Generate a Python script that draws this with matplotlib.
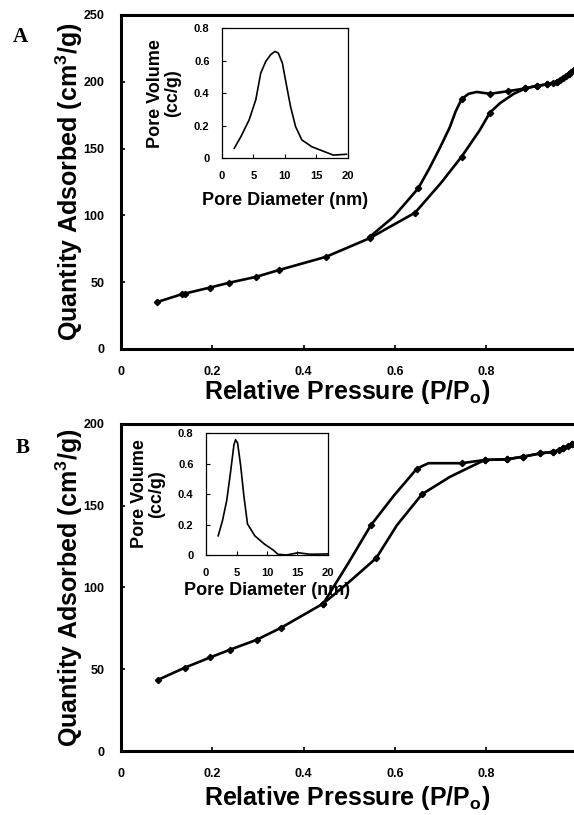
import matplotlib
matplotlib.use('Agg')
import matplotlib.pyplot as plt

plt.rcParams['font.family'] = ['Liberation Sans', 'DejaVu Sans']
plt.rcParams['font.weight'] = 'bold'
plt.rcParams['axes.labelweight'] = 'bold'
plt.rcParams['mathtext.fontset'] = 'custom'
plt.rcParams['mathtext.rm'] = 'Liberation Sans:bold'
plt.rcParams['mathtext.it'] = 'Liberation Sans:bold'
plt.rcParams['mathtext.default'] = 'rm'

# ---- panel A: isotherm ----
a_ads_p = [0.078, 0.133, 0.14, 0.195, 0.237, 0.296, 0.345, 0.449, 0.545, 0.589, 0.644, 0.70,
           0.746, 0.786, 0.808, 0.83, 0.86, 0.885, 0.91, 0.932, 0.945, 0.954, 0.962, 0.967,
           0.975, 0.98, 0.986, 0.991]
a_ads_q = [35, 41, 41.5, 46, 49.6, 54, 59, 69, 83, 91.5, 102, 124,
           144, 164, 177, 184, 191, 195, 197, 198, 199, 200, 201.5, 203,
           204.5, 206, 207.5, 209]
a_ads_mark = [0, 1, 2, 3, 4, 5, 6, 7, 8, 10, 12, 14, 17, 18, 19, 20, 21, 22, 23, 24, 25, 26, 27]

a_des_p = [0.991, 0.98, 0.954, 0.932, 0.91, 0.885, 0.848, 0.808, 0.779, 0.761, 0.746, 0.733,
           0.72, 0.699, 0.675, 0.651, 0.62, 0.597, 0.545]
a_des_q = [209, 206, 200, 198, 197, 195, 193, 191, 192.4, 191, 187, 178,
           166, 151, 135, 120.3, 108, 99, 84]
a_des_mark = [0, 1, 2, 3, 4, 5, 6, 7, 10, 15, 18]

# ---- panel A: pore size distribution ----
a_psd_d = [1.95, 3.0, 4.31, 5.37, 6.16, 6.95, 7.74, 8.42, 8.95, 9.6, 10.2, 10.9, 11.7,
           12.7, 14.3, 15.9, 17.7, 19.8]
a_psd_v = [0.062, 0.133, 0.236, 0.359, 0.523, 0.594, 0.636, 0.656, 0.646, 0.585, 0.46,
           0.318, 0.195, 0.113, 0.071, 0.047, 0.02, 0.025]

# ---- panel B: isotherm ----
b_ads_p = [0.08, 0.14, 0.195, 0.239, 0.297, 0.35, 0.443, 0.498, 0.559, 0.604, 0.659, 0.72,
           0.772, 0.797, 0.845, 0.881, 0.918, 0.947, 0.96, 0.969, 0.978, 0.987]
b_ads_q = [43.4, 51, 57.2, 62, 68, 75.3, 90.2, 103, 118, 138, 157, 167.6,
           174.7, 178, 178.4, 180, 182, 183, 184, 185, 186.5, 188]
b_ads_mark = [0, 1, 2, 3, 4, 5, 6, 8, 10, 13, 14, 15, 16, 17, 18, 19, 20, 21]

b_des_p = [0.987, 0.969, 0.947, 0.918, 0.881, 0.845, 0.797, 0.746, 0.673, 0.648, 0.597,
           0.547, 0.498, 0.443]
b_des_q = [188, 185, 183, 182, 180, 178.4, 178, 176, 176, 172.7, 156,
           138, 115, 90.2]
b_des_mark = [0, 1, 2, 3, 4, 5, 6, 7, 9, 11, 13]

# ---- panel B: pore size distribution ----
b_psd_d = [2.0, 2.7, 3.4, 4.03, 4.58, 4.85, 5.18, 5.67, 6.2, 6.8, 8.0, 9.6, 11.0, 11.8,
           13.2, 15.1, 17.0, 20.0]
b_psd_v = [0.126, 0.225, 0.358, 0.546, 0.723, 0.756, 0.734, 0.59, 0.391, 0.204, 0.126,
           0.071, 0.033, 0.005, 0.0, 0.015, 0.005, 0.007]

fig = plt.figure(figsize=(5.74, 8.15), dpi=100)


def main_panel(rect, ymax, ystep, ads, des, letter, letter_xy, xlab_pad):
    ax = fig.add_axes(rect)
    for p, q, mk in (ads, des):
        ax.plot(p, q, color='black', lw=1.9, marker='D', ms=3.2, markevery=mk, clip_on=False)
    ax.set_xlim(0, 0.992)
    ax.set_ylim(0, ymax)
    ax.set_xticks([0, 0.2, 0.4, 0.6, 0.8])
    ax.set_xticklabels(['0', '0.2', '0.4', '0.6', '0.8'])
    ax.set_yticks(range(0, ymax + 1, ystep))
    ax.tick_params(direction='in', length=3, width=1.2, labelsize=9, pad=12)
    ax.spines['right'].set_visible(False)
    for s in ('left', 'bottom', 'top'):
        ax.spines[s].set_linewidth(2.2)
    ax.set_xlabel('Relative Pressure (P/P$_{o}$)', fontsize=18, labelpad=xlab_pad)
    ax.set_ylabel('Quantity Adsorbed (cm$^{3}$/g)', fontsize=18, labelpad=-1)
    fig.text(letter_xy[0], letter_xy[1], letter, family='Liberation Serif',
             weight='bold', fontsize=15, ha='center', va='center')
    return ax


def inset(rect, d, v, xlab_pad):
    ax = fig.add_axes(rect)
    ax.plot(d, v, color='black', lw=1.2)
    ax.set_xlim(0, 20)
    ax.set_ylim(0, 0.8)
    ax.set_xticks([0, 5, 10, 15, 20])
    ax.set_yticks([0, 0.2, 0.4, 0.6, 0.8])
    ax.set_yticklabels(['0', '0.2', '0.4', '0.6', '0.8'])
    ax.tick_params(direction='in', length=3, width=0.8, labelsize=8, pad=9)
    for s in ax.spines.values():
        s.set_linewidth(0.9)
    ax.set_xlabel('Pore Diameter (nm)', fontsize=13, labelpad=xlab_pad)
    ax.set_ylabel('Pore Volume\n(cc/g)', fontsize=13, labelpad=9, linespacing=1.0)
    return ax


main_panel([0.2108, 0.5718, 0.7892, 0.4098], 250, 50,
           (a_ads_p, a_ads_q, a_ads_mark), (a_des_p, a_des_q, a_des_mark),
           'A', (0.036, 0.954), 0)
inset([0.3868, 0.8057, 0.2190, 0.1600], a_psd_d, a_psd_v, 8)

main_panel([0.2108, 0.0785, 0.7892, 0.4013], 200, 50,
           (b_ads_p, b_ads_q, b_ads_mark), (b_des_p, b_des_q, b_des_mark),
           'B', (0.040, 0.450), 3)
inset([0.3589, 0.3190, 0.2125, 0.1497], b_psd_d, b_psd_v, 3)

fig.savefig('out.png', dpi=100)
